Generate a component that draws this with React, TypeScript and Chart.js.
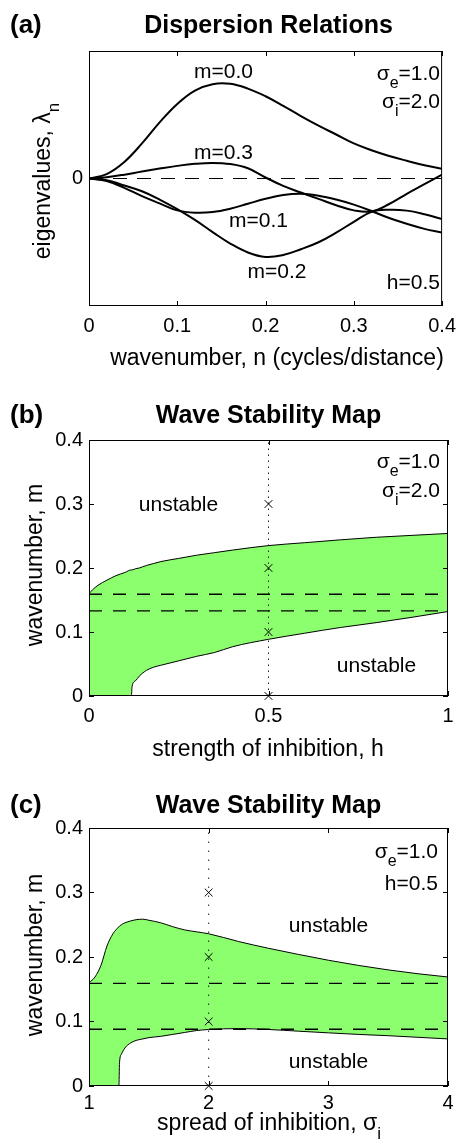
import React, { useEffect, useRef } from 'react';
import { Chart, registerables } from 'chart.js';

Chart.register(...registerables);

const FONT = '"Liberation Sans", Arial, Helvetica, sans-serif';
const GREEN = '#8cff6e';

// ---------- Panel (a): dispersion relations ----------
const N_A = [0, 0.02, 0.04, 0.06, 0.08, 0.1, 0.12, 0.14, 0.16, 0.18, 0.2, 0.22, 0.24, 0.26, 0.28, 0.3, 0.32, 0.34, 0.36, 0.38, 0.4];
const LAMBDA_M00 = [0, 0.035, 0.13, 0.275, 0.44, 0.585, 0.69, 0.74, 0.743, 0.705, 0.645, 0.57, 0.49, 0.415, 0.345, 0.275, 0.222, 0.177, 0.139, 0.104, 0.076];
const LAMBDA_M03 = [0, 0.01, 0.03, 0.055, 0.078, 0.099, 0.115, 0.122, 0.113, 0.08, 0.008, -0.058, -0.11, -0.16, -0.21, -0.25, -0.258, -0.2, -0.12, -0.045, 0.031];
const LAMBDA_M01 = [0, -0.02, -0.073, -0.138, -0.195, -0.25, -0.268, -0.263, -0.237, -0.198, -0.159, -0.13, -0.12, -0.135, -0.165, -0.205, -0.255, -0.31, -0.355, -0.395, -0.424];
const LAMBDA_M02 = [0, -0.013, -0.055, -0.1, -0.165, -0.24, -0.325, -0.42, -0.51, -0.58, -0.615, -0.6, -0.555, -0.5, -0.425, -0.34, -0.262, -0.245, -0.252, -0.28, -0.318];
const X_TICKS_A = [0, 0.1, 0.2, 0.3, 0.4];
const X_LABELS_A = ['0', '0.1', '0.2', '0.3', '0.4'];
const Y_TICKS_A = [0];
const Y_LABELS_A = ['0'];

// ---------- Panel (b): stability map vs h ----------
const H_B = [0, 0.01, 0.025, 0.05, 0.075, 0.1, 0.118, 0.12, 0.13, 0.14, 0.16, 0.18, 0.2, 0.25, 0.3, 0.35, 0.4, 0.5, 0.6, 0.7, 0.8, 0.9, 1.0];
const UPPER_B = [0.16, 0.166, 0.173, 0.181, 0.188, 0.193, 0.197, 0.197, 0.199, 0.2, 0.204, 0.207, 0.21, 0.215, 0.22, 0.224, 0.228, 0.235, 0.2395, 0.244, 0.248, 0.251, 0.254];
const LOWER_B = [0, 0, 0, 0, 0, 0, 0, 0.015, 0.024, 0.031, 0.04, 0.045, 0.048, 0.055, 0.062, 0.068, 0.077, 0.0886, 0.098, 0.107, 0.1146, 0.123, 0.132];
const DASH_B = [0.159, 0.133];
const MARK_X_B = 0.5;
const X_TICKS_B = [0, 0.5, 1];
const X_LABELS_B = ['0', '0.5', '1'];

// ---------- Panel (c): stability map vs sigma_i ----------
const S_C = [1, 1.05, 1.1, 1.15, 1.2, 1.25, 1.255, 1.27, 1.3, 1.35, 1.4, 1.45, 1.5, 1.6, 1.7, 1.8, 1.9, 2.0, 2.25, 2.5, 2.75, 3.0, 3.25, 3.5, 3.75, 4.0];
const UPPER_C = [0.16, 0.169, 0.187, 0.217, 0.236, 0.247, 0.248, 0.25, 0.253, 0.256, 0.258, 0.2586, 0.257, 0.253, 0.247, 0.242, 0.239, 0.236, 0.224, 0.2135, 0.204, 0.195, 0.187, 0.18, 0.174, 0.169];
const LOWER_C = [0, 0, 0, 0, 0, 0, 0.036, 0.049, 0.059, 0.067, 0.071, 0.073, 0.075, 0.077, 0.08, 0.083, 0.086, 0.0876, 0.089, 0.0876, 0.085, 0.0824, 0.08, 0.078, 0.0755, 0.073];
const DASH_C = [0.159, 0.088];
const MARK_X_C = 2;
const X_TICKS_C = [1, 2, 3, 4];
const X_LABELS_C = ['1', '2', '3', '4'];

// shared for (b) and (c)
const MARK_M = [0, 0.1, 0.2, 0.3];
const Y_TICKS_M = [0, 0.1, 0.2, 0.3, 0.4];
const Y_LABELS_M = ['0', '0.1', '0.2', '0.3', '0.4'];

type Seg = { t: string; sub?: boolean };
type TextItem = { segs: Seg[]; x: number; y: number; size: number; bold?: boolean; align: 'left' | 'center' | 'right'; rotate?: boolean };

const xy = (xs: number[], ys: number[]) => xs.map((x, i) => ({ x, y: ys[i] }));

function drawRich(ctx: CanvasRenderingContext2D, it: TextItem) {
  const w = it.bold ? 'bold ' : '';
  const main = `${w}${it.size}px ${FONT}`;
  const sub = `${w}${Math.round(it.size * 0.75)}px ${FONT}`;
  ctx.save();
  ctx.translate(it.x, it.y);
  if (it.rotate) ctx.rotate(-Math.PI / 2);
  let total = 0;
  const widths = it.segs.map((s) => {
    ctx.font = s.sub ? sub : main;
    const m = ctx.measureText(s.t).width;
    total += m;
    return m;
  });
  let x = it.align === 'left' ? 0 : it.align === 'center' ? -total / 2 : -total;
  ctx.textAlign = 'left';
  ctx.textBaseline = 'alphabetic';
  ctx.fillStyle = '#000';
  it.segs.forEach((s, i) => {
    ctx.font = s.sub ? sub : main;
    ctx.fillText(s.t, x, s.sub ? it.size * 0.4 : 0);
    x += widths[i];
  });
  ctx.restore();
}

const textPlugin = (items: TextItem[]) => ({
  id: 'richText',
  afterDraw(chart: any) {
    const ctx = chart.ctx as CanvasRenderingContext2D;
    items.forEach((it) => drawRich(ctx, it));
  },
});

const frameTicks = {
  id: 'frameTicks',
  afterDatasetsDraw(chart: any) {
    const { ctx, chartArea: a, scales } = chart;
    const L = 5;
    ctx.save();
    ctx.strokeStyle = '#000';
    ctx.lineWidth = 1;
    ctx.beginPath();
    for (const t of scales.x.ticks) {
      const px = Math.round(scales.x.getPixelForValue(t.value)) + 0.5;
      ctx.moveTo(px, a.bottom);
      ctx.lineTo(px, a.bottom - L);
      ctx.moveTo(px, a.top);
      ctx.lineTo(px, a.top + L);
    }
    for (const t of scales.y.ticks) {
      const py = Math.floor(scales.y.getPixelForValue(t.value)) + 0.5;
      ctx.moveTo(a.left, py);
      ctx.lineTo(a.left + L, py);
      ctx.moveTo(a.right, py);
      ctx.lineTo(a.right - L, py);
    }
    ctx.stroke();
    ctx.strokeRect(a.left + 0.5, a.top + 0.5, a.right - a.left - 1, a.bottom - a.top - 1);
    ctx.restore();
  },
};

function makeScales(xMin: number, xMax: number, xTicks: number[], xLabels: string[], yMin: number, yMax: number, yTicks: number[], yLabels: string[], xPad: number) {
  const tickFont = { family: FONT, size: 20 };
  return {
    x: {
      type: 'linear',
      position: 'bottom',
      min: xMin,
      max: xMax,
      afterBuildTicks: (s: any) => {
        s.ticks = xTicks.map((v) => ({ value: v }));
      },
      afterFit: (s: any) => {
        s.height = 40;
      },
      grid: { display: false, drawTicks: false, tickLength: 0 },
      border: { display: false },
      ticks: { autoSkip: false, maxRotation: 0, minRotation: 0, padding: xPad, color: '#000', font: tickFont, callback: (_v: any, i: number) => xLabels[i] },
    },
    y: {
      type: 'linear',
      position: 'left',
      min: yMin,
      max: yMax,
      afterBuildTicks: (s: any) => {
        s.ticks = yTicks.map((v) => ({ value: v }));
      },
      afterFit: (s: any) => {
        s.width = 40;
      },
      grid: { display: false, drawTicks: false, tickLength: 0 },
      border: { display: false },
      ticks: { autoSkip: false, padding: 6, color: '#000', font: tickFont, callback: (_v: any, i: number) => yLabels[i] },
    },
  };
}

const baseOptions = (padding: any, scales: any) => ({
  responsive: false,
  animation: false,
  devicePixelRatio: 1,
  events: [],
  layout: { padding },
  elements: { point: { radius: 0 }, line: { tension: 0 } },
  plugins: { legend: { display: false }, tooltip: { enabled: false }, title: { display: false } },
  scales,
});

const line = (data: any[], extra: any) => ({
  data,
  borderColor: '#000',
  borderWidth: 1,
  pointRadius: 0,
  fill: false,
  ...extra,
});

// ---------- texts ----------
const TEXTS_A: TextItem[] = [
  { segs: [{ t: '(a)' }], x: 10, y: 33, size: 26, bold: true, align: 'left' },
  { segs: [{ t: 'Dispersion Relations' }], x: 268.5, y: 33, size: 25, bold: true, align: 'center' },
  { segs: [{ t: 'eigenvalues, λ' }, { t: 'n', sub: true }], x: 50, y: 181, size: 23, align: 'center', rotate: true },
  { segs: [{ t: 'wavenumber, n (cycles/distance)' }], x: 277, y: 365, size: 23, align: 'center' },
  { segs: [{ t: 'm=0.0' }], x: 223.5, y: 78, size: 21, align: 'center' },
  { segs: [{ t: 'm=0.3' }], x: 223.5, y: 159, size: 21, align: 'center' },
  { segs: [{ t: 'm=0.1' }], x: 258.5, y: 227, size: 21, align: 'center' },
  { segs: [{ t: 'm=0.2' }], x: 277, y: 278, size: 21, align: 'center' },
  { segs: [{ t: 'σ' }, { t: 'e', sub: true }, { t: '=1.0' }], x: 440, y: 80, size: 21, align: 'right' },
  { segs: [{ t: 'σ' }, { t: 'i', sub: true }, { t: '=2.0' }], x: 440, y: 108, size: 21, align: 'right' },
  { segs: [{ t: 'h=0.5' }], x: 440, y: 289, size: 21, align: 'right' },
];

const TEXTS_B: TextItem[] = [
  { segs: [{ t: '(b)' }], x: 10, y: 43, size: 26, bold: true, align: 'left' },
  { segs: [{ t: 'Wave Stability Map' }], x: 268.5, y: 43, size: 25, bold: true, align: 'center' },
  { segs: [{ t: 'wavenumber, m' }], x: 42, y: 185, size: 23, align: 'center', rotate: true },
  { segs: [{ t: 'strength of inhibition, h' }], x: 268, y: 376, size: 23, align: 'center' },
  { segs: [{ t: 'σ' }, { t: 'e', sub: true }, { t: '=1.0' }], x: 440, y: 88, size: 21, align: 'right' },
  { segs: [{ t: 'σ' }, { t: 'i', sub: true }, { t: '=2.0' }], x: 440, y: 117, size: 21, align: 'right' },
  { segs: [{ t: 'unstable' }], x: 178.5, y: 131, size: 21, align: 'center' },
  { segs: [{ t: 'unstable' }], x: 376.5, y: 292, size: 21, align: 'center' },
];

const TEXTS_C: TextItem[] = [
  { segs: [{ t: '(c)' }], x: 10, y: 48, size: 26, bold: true, align: 'left' },
  { segs: [{ t: 'Wave Stability Map' }], x: 268.5, y: 48, size: 25, bold: true, align: 'center' },
  { segs: [{ t: 'wavenumber, m' }], x: 42, y: 190, size: 23, align: 'center', rotate: true },
  { segs: [{ t: 'spread of inhibition, σ' }, { t: 'i', sub: true }], x: 269, y: 365, size: 23, align: 'center' },
  { segs: [{ t: 'σ' }, { t: 'e', sub: true }, { t: '=1.0' }], x: 438, y: 93, size: 21, align: 'right' },
  { segs: [{ t: 'h=0.5' }], x: 438, y: 125, size: 21, align: 'right' },
  { segs: [{ t: 'unstable' }], x: 328.5, y: 167, size: 21, align: 'center' },
  { segs: [{ t: 'unstable' }], x: 328.5, y: 303, size: 21, align: 'center' },
];

// ---------- configs ----------
function configA(): any {
  const curve = (ys: number[]) => line(xy(N_A, ys), { borderWidth: 2, tension: 0.4, order: 1 });
  return {
    type: 'line',
    data: {
      datasets: [
        curve(LAMBDA_M00),
        curve(LAMBDA_M03),
        curve(LAMBDA_M01),
        curve(LAMBDA_M02),
        line([{ x: X_TICKS_A[0], y: 0 }, { x: X_TICKS_A[X_TICKS_A.length - 1], y: 0 }], { borderDash: [14, 10], order: 5 }),
      ],
    },
    options: baseOptions({ left: 49, right: 16, top: 51, bottom: 34 }, makeScales(0, 0.4, X_TICKS_A, X_LABELS_A, -1, 1, Y_TICKS_A, Y_LABELS_A, 8)),
    plugins: [frameTicks, textPlugin(TEXTS_A)],
  };
}

function stabilityConfig(xs: number[], upper: number[], lower: number[], dashes: number[], markX: number, xMin: number, xMax: number, xTicks: number[], xLabels: string[], dotDash: number[], padding: any, texts: TextItem[], xPad: number): any {
  return {
    type: 'line',
    data: {
      datasets: [
        line(xy(xs, lower), { cubicInterpolationMode: 'monotone', order: 8 }),
        line(xy(xs, upper), { cubicInterpolationMode: 'monotone', fill: '-1', backgroundColor: GREEN, order: 9 }),
        ...dashes.map((m) => line([{ x: xMin, y: m }, { x: xMax, y: m }], { borderDash: [13, 11], borderWidth: 1.3, order: 3 })),
        line([{ x: markX, y: 0 }, { x: markX, y: 0.4 }], { borderDash: dotDash, borderColor: '#222', order: 2 }),
        {
          data: MARK_M.map((m) => ({ x: markX, y: m })),
          showLine: false,
          pointStyle: 'crossRot',
          pointRadius: 5.5,
          pointBorderColor: '#000',
          pointBorderWidth: 1,
          pointBackgroundColor: 'rgba(0,0,0,0)',
          borderColor: '#000',
          order: 0,
          clip: false,
        },
      ],
    },
    options: baseOptions(padding, makeScales(xMin, xMax, xTicks, xLabels, 0, 0.4, Y_TICKS_M, Y_LABELS_M, xPad)),
    plugins: [frameTicks, textPlugin(texts)],
  };
}

const configB = () =>
  stabilityConfig(H_B, UPPER_B, LOWER_B, DASH_B, MARK_X_B, 0, 1, X_TICKS_B, X_LABELS_B, [1.5, 4.5], { left: 49, right: 16, top: 60, bottom: 29 }, TEXTS_B, 8);
const configC = () =>
  stabilityConfig(S_C, UPPER_C, LOWER_C, DASH_C, MARK_X_C, 1, 4, X_TICKS_C, X_LABELS_C, [1.5, 7.5], { left: 49, right: 16, top: 63, bottom: 18 }, TEXTS_C, 5);

function Panel({ top, height, build }: { top: number; height: number; build: () => any }) {
  const ref = useRef<HTMLCanvasElement>(null);
  useEffect(() => {
    const chart = new Chart(ref.current as HTMLCanvasElement, build());
    return () => chart.destroy();
  }, []);
  return (
    <canvas
      ref={ref}
      width={464}
      height={height}
      style={{ position: 'absolute', left: 0, top, width: 464, height, display: 'block' }}
    />
  );
}

export default function App() {
  return (
    <div style={{ position: 'absolute', left: 0, top: 0, width: 464, height: 1144, background: '#fff', overflow: 'hidden' }}>
      <Panel top={0} height={380} build={configA} />
      <Panel top={380} height={385} build={configB} />
      <Panel top={765} height={379} build={configC} />
    </div>
  );
}
